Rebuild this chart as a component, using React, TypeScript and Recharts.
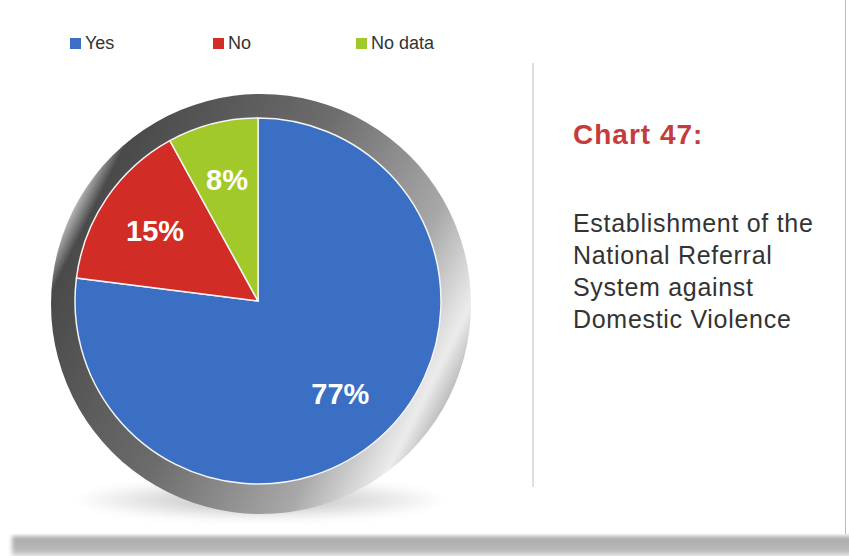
import React from "react";
import { PieChart, Pie, Cell, Legend } from "recharts";

const categories = ["Yes", "No", "No data"];
const shares = [77, 15, 8];
const colors = ["#3a6fc4", "#d22c27", "#a2c92a"];
const ringData = [{ name: "ring", value: 1 }];

const data = categories.map((name, i) => ({ name, value: shares[i] }));

const RAD = Math.PI / 180;

const renderLabel = (props: any) => {
  const { cx, cy, midAngle, outerRadius, value } = props;
  const r = outerRadius * 0.68;
  const x = cx + r * Math.cos(-midAngle * RAD);
  const y = cy + r * Math.sin(-midAngle * RAD);
  return (
    <text
      x={x}
      y={y}
      fill="#ffffff"
      textAnchor="middle"
      dominantBaseline="central"
      style={{ fontFamily: "'Liberation Sans', Arial, sans-serif", fontWeight: 700, fontSize: 29 }}
    >
      {`${value}%`}
    </text>
  );
};

const renderLegend = () => {
  return (
    <div style={{ display: "flex", marginLeft: 70 }}>
      {categories.map((name, i) => (
        <div
          key={name}
          style={{ width: 143, display: "flex", alignItems: "center", fontFamily: "'Liberation Sans', Arial, sans-serif", fontSize: 18, color: "#333" }}
        >
          <span style={{ display: "inline-block", width: 11, height: 11, background: colors[i], marginRight: 4 }} />
          <span>{name}</span>
        </div>
      ))}
    </div>
  );
};

export default function App() {
  return (
    <div style={{ position: "absolute", left: 0, top: 0, width: 849, height: 556, background: "#fff", overflow: "hidden" }}>
      {/* bottom shadow band */}
      <div style={{ position: "absolute", left: 12, top: 536, width: 845, height: 20, background: "linear-gradient(#a9a9a9, #b8b8b8 70%, #d8d8d8)", filter: "blur(2px)" }} />
      {/* card */}
      <div style={{ position: "absolute", left: 0, top: 0, width: 845, height: 534, background: "#fff", borderRight: "1px solid #bbb" }} />
      {/* pie ground shadow */}
      <div style={{ position: "absolute", left: 80, top: 480, width: 360, height: 40, borderRadius: "50%", background: "radial-gradient(ellipse at center, rgba(120,120,120,0.55), rgba(160,160,160,0.2) 55%, rgba(255,255,255,0) 75%)", filter: "blur(4px)" }} />
      {/* divider */}
      <div style={{ position: "absolute", left: 532, top: 63, width: 2, height: 424, background: "#e0e0e0" }} />
      <div style={{ position: "absolute", left: 0, top: 0 }}>
        <PieChart width={849} height={556} margin={{ top: 0, right: 0, bottom: 0, left: 0 }}>
          <defs>
            <linearGradient id="ringGrad" x1="0" y1="0.25" x2="1" y2="0.75">
              <stop offset="0" stopColor="#3e3e3e" />
              <stop offset="0.04" stopColor="#d8d8d8" />
              <stop offset="0.09" stopColor="#4a4a4a" />
              <stop offset="0.45" stopColor="#6c6c6c" />
              <stop offset="0.75" stopColor="#a8a8a8" />
              <stop offset="0.9" stopColor="#ececec" />
              <stop offset="1" stopColor="#8a8a8a" />
            </linearGradient>
          </defs>
          <Legend
            verticalAlign="top"
            align="left"
            content={renderLegend}
            wrapperStyle={{ top: 33, left: 0, width: 500 }}
          />
          <Pie
            data={ringData}
            dataKey="value"
            cx={261}
            cy={283}
            innerRadius={0}
            outerRadius={210}
            stroke="none"
            fill="url(#ringGrad)"
            isAnimationActive={false}
            legendType="none"
          />
          <Pie
            data={data}
            dataKey="value"
            nameKey="name"
            cx={258}
            cy={280}
            outerRadius={183}
            startAngle={90}
            endAngle={-270}
            stroke="#f4f4f4"
            strokeWidth={1.5}
            label={renderLabel}
            labelLine={false}
            isAnimationActive={false}
          >
            {data.map((d, i) => (
              <Cell key={d.name} fill={colors[i]} />
            ))}
          </Pie>
        </PieChart>
      </div>
      <div style={{ position: "absolute", left: 573, top: 121, fontFamily: "'Liberation Sans', Arial, sans-serif", fontWeight: 700, fontSize: 28, lineHeight: "28px", letterSpacing: 1, color: "#c43c3c" }}>
        Chart 47:
      </div>
      <div style={{ position: "absolute", left: 573, top: 207, width: 270, fontFamily: "'Liberation Sans', Arial, sans-serif", fontSize: 25, lineHeight: "32px", letterSpacing: 0.7, color: "#333" }}>
        Establishment of the
        <br />
        National Referral
        <br />
        System against
        <br />
        Domestic Violence
      </div>
    </div>
  );
}
